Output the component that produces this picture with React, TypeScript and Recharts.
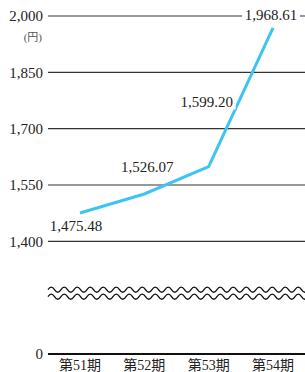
import { LineChart, Line, XAxis, YAxis, CartesianGrid, LabelList, ReferenceLine } from "recharts"

const periods = ["第51期", "第52期", "第53期", "第54期"]
const prices = [1475.48, 1526.07, 1599.2, 1968.61]
const yTickValues = [0, 1400, 1550, 1700, 1850, 2000]

// axis is broken below 1,400: the 0 tick is drawn where 1,100 would be
const zeroAt = 1100
const breakAt = 1262

const data = periods.map((name, i) => ({ name, price: prices[i] }))
const ticks = yTickValues.map((v) => (v === 0 ? zeroAt : v))

const serif = "'Liberation Serif', 'Times New Roman', 'Noto Sans CJK JP', serif"
const labelOffsets = [
  [-4, 13],
  [3, -27],
  [-2, -65],
  [-2, -13],
]

const fmt = (v: number) => v.toLocaleString("en-US", { minimumFractionDigits: 2, maximumFractionDigits: 2 })

function PointLabel(props: any) {
  const { x, y, value, index } = props
  const [dx, dy] = labelOffsets[index]
  const cx = x + dx
  const cy = y + dy
  return (
    <g>
      <rect x={cx - 29} y={cy - 8} width={58} height={16} fill="#fff" />
      <text x={cx} y={cy} textAnchor="middle" dominantBaseline="central" fontSize={15} fontFamily={serif} fill="#222">
        {fmt(value)}
      </text>
    </g>
  )
}

function WavyBreak(props: any) {
  const { x1, x2, y1 } = props
  const period = 13
  const amp = 2.6
  const wave = (yc: number) => {
    let d = `M${x1},${yc}`
    for (let x = x1; x < x2; x += period) {
      d += ` q${period / 4},${-amp * 2} ${period / 2},0 t${period / 2},0`
    }
    return d
  }
  return (
    <g fill="none" stroke="#111" strokeWidth={1.3}>
      <path d={wave(y1 - 3.5)} />
      <path d={wave(y1 + 3.5)} />
    </g>
  )
}

function UnitLabel(props: any) {
  const { viewBox } = props
  return (
    <text x={viewBox.x + viewBox.width - 6} y={viewBox.y + 25} textAnchor="end" fontSize={11} fontFamily={serif} fill="#555">
      (円)
    </text>
  )
}

export default function App() {
  return (
    <div style={{ position: "absolute", left: 0, top: 0 }}>
      <LineChart width={305} height={372} data={data} margin={{ top: 16, right: 0, bottom: 0, left: 0 }}>
        <CartesianGrid vertical={false} stroke="#333" strokeWidth={1.2} />
        <XAxis
          dataKey="name"
          padding={{ left: 32, right: 32 }}
          height={18}
          tickSize={0}
          tickLine={false}
          tickMargin={6}
          axisLine={{ stroke: "#111", strokeWidth: 2 }}
          tick={{ fontSize: 14, fontFamily: serif, fill: "#222" }}
          interval={0}
        />
        <YAxis
          width={48}
          domain={[zeroAt, 2000]}
          ticks={ticks}
          interval={0}
          axisLine={false}
          tickLine={false}
          tickSize={0}
          tickMargin={5}
          tickFormatter={(v: number) => (v === zeroAt ? "0" : v.toLocaleString("en-US"))}
          tick={{ fontSize: 15, fontFamily: serif, fill: "#222" }}
          label={<UnitLabel />}
        />
        <ReferenceLine y={breakAt} ifOverflow="visible" shape={(p: any) => <WavyBreak {...p} />} />
        <Line
          type="linear"
          dataKey="price"
          stroke="#3ec4f0"
          strokeWidth={3}
          dot={false}
          activeDot={false}
          isAnimationActive={false}
        >
          <LabelList dataKey="price" content={<PointLabel />} />
        </Line>
      </LineChart>
    </div>
  )
}
